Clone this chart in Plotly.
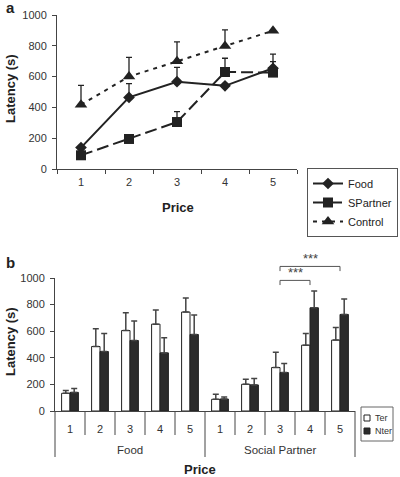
import plotly.graph_objects as go

# ---------------- data ----------------
prices = ["1", "2", "3", "4", "5"]

food_a = [139, 465, 567, 540, 654]
food_a_err = [0, 90, 93, 0, 92]
spartner_a = [89, 195, 305, 630, 626]
spartner_a_err = [0, 0, 67, 89, 71]
control_a = [418, 600, 699, 799, 898]
control_a_err = [125, 125, 126, 104, 0]

groups_b = ["Food", "Social Partner"]
cats_b = ["F1", "F2", "F3", "F4", "F5", "S1", "S2", "S3", "S4", "S5"]
ticktext_b = prices + prices
ter = [133, 485, 605, 653, 744, 88, 201, 327, 495, 533]
ter_err = [22, 133, 134, 106, 105, 38, 38, 115, 88, 95]
nter = [140, 447, 530, 437, 575, 90, 196, 289, 776, 726]
nter_err = [30, 136, 146, 113, 146, 15, 48, 68, 126, 116]

# significance brackets: (from category index, to category index, level)
sig_pairs = [(7, 8, 982, "***"), (7, 9, 1087, "***")]

# ---------------- styling ----------------
W, H = 400, 477
FONT = "Liberation Sans, Arial, sans-serif"
INK = "#222222"
AX = "#444444"


def px(x):
    return x / W


def py(y):
    return 1 - y / H


a_xdom = [px(57), px(297)]
a_ydom = [py(169), py(15)]
b_xdom = [px(55), px(355)]
b_ydom = [py(411), py(278)]


def b_val_to_paper(v):
    return b_ydom[0] + v / 1000 * (b_ydom[1] - b_ydom[0])


fig = go.Figure()

zeros5 = [0] * 5
err_style = dict(type="data", symmetric=False, width=3, thickness=1.3, color=INK)

fig.add_trace(go.Scatter(
    x=prices, y=food_a, name="Food", mode="lines+markers",
    line=dict(color=INK, width=2, dash="solid"),
    marker=dict(symbol="diamond", size=9, color=INK),
    error_y=dict(array=food_a_err, arrayminus=zeros5, **err_style),
    xaxis="x", yaxis="y", legend="legend"))
fig.add_trace(go.Scatter(
    x=prices, y=spartner_a, name="SPartner", mode="lines+markers",
    line=dict(color=INK, width=2, dash="12px,5px"),
    marker=dict(symbol="square", size=10, color=INK),
    error_y=dict(array=spartner_a_err, arrayminus=zeros5, **err_style),
    xaxis="x", yaxis="y", legend="legend"))
fig.add_trace(go.Scatter(
    x=prices, y=control_a, name="Control", mode="lines+markers",
    line=dict(color=INK, width=2, dash="4px,5px"),
    marker=dict(symbol="triangle-up", size=11, color=INK),
    error_y=dict(array=control_a_err, arrayminus=zeros5, **err_style),
    xaxis="x", yaxis="y", legend="legend"))

zeros10 = [0] * 10
bar_err = dict(type="data", symmetric=False, width=3, thickness=1.5, color="#444444")
fig.add_trace(go.Bar(
    x=cats_b, y=ter, name="Ter", marker=dict(color="white", line=dict(color=INK, width=1)),
    error_y=dict(array=ter_err, arrayminus=zeros10, **bar_err),
    xaxis="x2", yaxis="y2", showlegend=False))
fig.add_trace(go.Bar(
    x=cats_b, y=nter, name="Nter", marker=dict(color="#2b2b2b", line=dict(color=INK, width=1)),
    error_y=dict(array=nter_err, arrayminus=zeros10, **bar_err),
    xaxis="x2", yaxis="y2", showlegend=False))

tickfont = dict(family=FONT, size=11, color="#333333")
fig.update_layout(
    width=W, height=H, margin=dict(l=0, r=0, t=0, b=0),
    paper_bgcolor="white", plot_bgcolor="white",
    font=dict(family=FONT, color=INK),
    barmode="group", bargap=0.44, bargroupgap=0,
    xaxis=dict(domain=a_xdom, anchor="y", type="category", categoryorder="array",
               categoryarray=prices, range=[-0.5, 4.5], tickson="boundaries",
               ticks="outside", ticklen=4, tickcolor=AX, showline=True, linecolor=AX,
               linewidth=1, showgrid=False, zeroline=False, tickfont=tickfont,
               ticklabelstandoff=3, automargin=False),
    yaxis=dict(domain=a_ydom, anchor="x", range=[0, 1000],
               tickvals=[0, 200, 400, 600, 800, 1000], ticks="outside", ticklen=4,
               tickcolor=AX, showline=True, linecolor=AX, linewidth=1, showgrid=False,
               zeroline=False, tickfont=tickfont, ticklabelstandoff=3, automargin=False),
    xaxis2=dict(domain=b_xdom, anchor="y2", type="category", categoryorder="array",
                categoryarray=cats_b, tickvals=cats_b, ticktext=ticktext_b,
                range=[-0.5, 9.5], ticks="", showline=True, linecolor=AX, linewidth=1,
                showgrid=False, zeroline=False, tickfont=tickfont, ticklabelstandoff=8,
                automargin=False),
    yaxis2=dict(domain=b_ydom, anchor="x2", range=[0, 1000],
                tickvals=[0, 200, 400, 600, 800, 1000], ticks="outside", ticklen=4,
                tickcolor=AX, showline=True, linecolor=AX, linewidth=1, showgrid=False,
                zeroline=False, tickfont=tickfont, ticklabelstandoff=3, automargin=False),
    legend=dict(x=px(307), y=py(168), xanchor="left", yanchor="top",
                bgcolor="white", bordercolor="#555555", borderwidth=1,
                font=dict(family=FONT, size=11, color=INK), tracegroupgap=0),
)

ann = []
shapes = []
bold = lambda s: "<b>" + s + "</b>"
# panel letters
ann.append(dict(text=bold("a"), x=px(4), y=py(8), xref="paper", yref="paper",
                xanchor="left", yanchor="middle", showarrow=False,
                font=dict(family=FONT, size=15, color=INK)))
ann.append(dict(text=bold("b"), x=px(4), y=py(262), xref="paper", yref="paper",
                xanchor="left", yanchor="middle", showarrow=False,
                font=dict(family=FONT, size=15, color=INK)))
# axis titles
for (yc, xc) in [(89, 10), (342, 10)]:
    ann.append(dict(text=bold("Latency (s)"), x=px(xc), y=py(yc), xref="paper", yref="paper",
                    textangle=-90, showarrow=False, xanchor="center", yanchor="middle",
                    font=dict(family=FONT, size=13, color=INK)))
for (xc, yc) in [(178, 207), (200, 469)]:
    ann.append(dict(text=bold("Price"), x=px(xc), y=py(yc), xref="paper", yref="paper",
                    showarrow=False, xanchor="center", yanchor="middle",
                    font=dict(family=FONT, size=13, color=INK)))
# group labels for panel b
for gi, g in enumerate(groups_b):
    ann.append(dict(text=g, x=2 + 5 * gi, y=py(450), xref="x2", yref="paper",
                    showarrow=False, xanchor="center", yanchor="middle",
                    font=dict(family=FONT, size=11.5, color="#333333")))

# category boundary lines in panel b
axis_py = py(411)
for i in range(1, 10):
    if i == 5:
        continue
    shapes.append(dict(type="line", xref="x2", yref="paper", x0=i - 0.5, x1=i - 0.5,
                       y0=axis_py, y1=py(435), line=dict(color=AX, width=1)))
shapes.append(dict(type="line", xref="x2", yref="paper", x0=4.5, x1=4.5,
                   y0=axis_py, y1=py(457), line=dict(color=AX, width=1)))
for d in [0, 1]:
    shapes.append(dict(type="line", xref="x2 domain", yref="paper", x0=d, x1=d,
                       y0=axis_py, y1=py(457), line=dict(color=AX, width=1)))

# significance brackets
for (i0, i1, lvl, lab) in sig_pairs:
    yt = b_val_to_paper(lvl)
    yb = b_val_to_paper(lvl - 35)
    shapes.append(dict(type="line", xref="x2", yref="paper", x0=i0, x1=i1, y0=yt, y1=yt,
                       line=dict(color="#555555", width=1)))
    for xi in (i0, i1):
        shapes.append(dict(type="line", xref="x2", yref="paper", x0=xi, x1=xi, y0=yt, y1=yb,
                           line=dict(color="#555555", width=1)))
    ann.append(dict(text=lab, x=(i0 + i1) / 2 if i1 - i0 == 1 else i0 + 1, y=yt, xref="x2",
                    yref="paper", showarrow=False, xanchor="center", yanchor="bottom",
                    yshift=-2, font=dict(family=FONT, size=13, color="#444444")))

# legend for panel b (Ter / Nter)
shapes.append(dict(type="rect", xref="paper", yref="paper", x0=px(361), x1=px(393),
                   y0=py(441), y1=py(407), line=dict(color="#666666", width=1),
                   fillcolor="white"))
for (name, fill, yc) in [("Ter", "white", 418), ("Nter", "#2b2b2b", 431)]:
    shapes.append(dict(type="rect", xref="paper", yref="paper", x0=px(364), x1=px(370),
                       y0=py(yc + 3), y1=py(yc - 3), line=dict(color=INK, width=1),
                       fillcolor=fill))
    ann.append(dict(text=name, x=px(372.5), y=py(yc), xref="paper", yref="paper",
                    showarrow=False, xanchor="left", yanchor="middle",
                    font=dict(family=FONT, size=9, color="#333333")))

fig.update_layout(annotations=ann, shapes=shapes)
fig.write_html("out.html")
